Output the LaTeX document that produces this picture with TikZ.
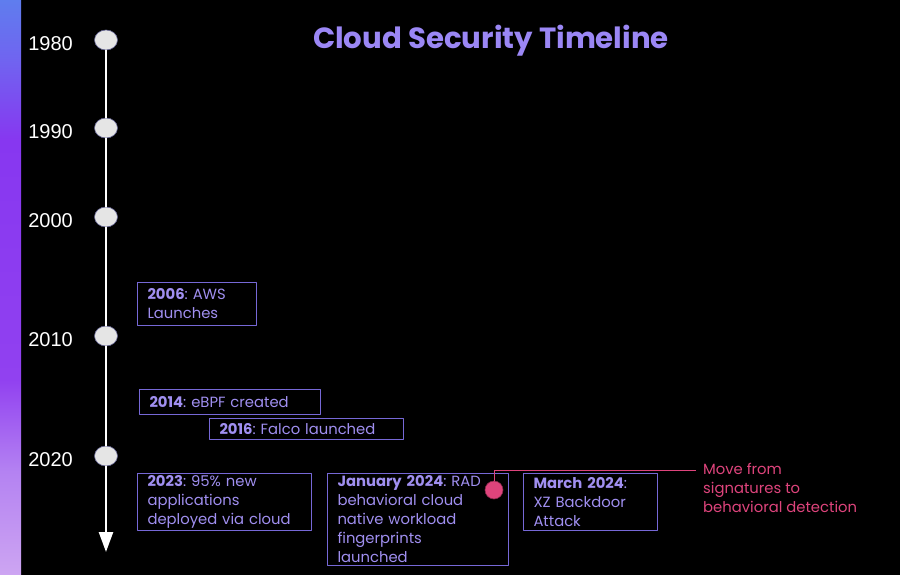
\documentclass[tikz,border=0pt]{standalone}
\usepackage{fontspec}
\setmainfont{Poppins}
\newfontfamily\yearfont{Liberation Sans}
\usetikzlibrary{arrows.meta,shapes.geometric}
\definecolor{titlecol}{RGB}{155,135,245}
\definecolor{evtext}{RGB}{160,143,240}
\definecolor{evline}{RGB}{118,104,214}
\definecolor{radpink}{RGB}{222,68,124}
\definecolor{stripA}{RGB}{95,125,238}
\definecolor{stripE}{RGB}{112,100,240}
\definecolor{stripB}{RGB}{135,55,240}
\definecolor{stripF}{RGB}{145,65,240}
\definecolor{stripD}{RGB}{180,130,242}
\definecolor{stripC}{RGB}{205,165,242}
\pgfdeclareverticalshading{stripshade}{100bp}{color(0bp)=(stripC); color(25bp)=(stripC); color(34bp)=(stripD); color(42bp)=(stripF); color(62.8bp)=(stripB); color(69.8bp)=(stripE); color(75bp)=(stripA); color(100bp)=(stripA)}
\frenchspacing
\begin{document}
\begin{tikzpicture}[x=1pt, y=-1pt, line join=round,
    yearlbl/.style={anchor=east, text=white, font=\yearfont\fontsize{20}{22}\selectfont, inner sep=0pt},
    tick/.style={ellipse, draw=black!70!blue!60, line width=.6pt, fill=black!10, minimum width=23pt, minimum height=20pt, inner sep=0pt},
    evbox/.style={draw=evline, line width=1pt, anchor=north west, align=left, text=evtext, inner xsep=10pt, inner ysep=2pt, font=\fontsize{14.8}{19}\selectfont},
    axis/.style={white, line width=2.5pt}]
  \useasboundingbox (0,0) rectangle (900,575);
  \fill[black] (0,0) rectangle (900,575);
  \shade[shading=stripshade] (0,0) rectangle (21,575);
  % title
  \node[text=titlecol, font=\bfseries\fontsize{29.2}{33}\selectfont] (title) at (491,41) {Cloud Security Timeline};
  % decades
  \foreach \yr/\yy in {1980/40, 1990/128, 2000/217, 2010/336, 2020/456}{
    \node[tick] (c\yr) at (106,\yy) {};
    \node[yearlbl] (y\yr) at (73,\yy+4) {\yr};
  }
  \coordinate (tip) at (106,552);
  \foreach \a/\b in {1980/1990, 1990/2000, 2000/2010, 2010/2020}
    \draw[axis] (c\a) -- (c\b);
  \draw[axis, -{Triangle[width=14pt,length=20pt]}] (c2020) -- (tip);
  % events
  \node[evbox, text width=99pt, minimum height=43pt] (e2006) at (137,282) {\textbf{2006}: AWS\\Launches};
  \node[evbox, text width=161pt, minimum height=25pt] (e2014) at (139,389) {\textbf{2014}: eBPF created};
  \node[evbox, text width=174pt, minimum height=21pt] (e2016) at (209,418) {\textbf{2016}: Falco launched};
  \node[evbox, text width=154pt, minimum height=57pt] (e2023) at (137,473) {\textbf{2023}: 95\% new\\applications\\deployed via cloud};
  \node[evbox, text width=161pt, minimum height=92pt] (e2024a) at (327,473) {\textbf{January 2024}: RAD\\behavioral cloud\\native workload\\fingerprints\\launched};
  \node[evbox, text width=114pt, minimum height=57pt] (e2024b) at (523,473) {\textbf{March 2024}:\\XZ Backdoor\\Attack};
  % callout
  \node[circle, fill=radpink, draw=radpink!60!black, line width=.6pt, minimum size=18pt, inner sep=0pt] (rad) at (494,490) {};
  \coordinate (note) at (696,470);
  \node[anchor=north west, align=left, text=radpink, inner sep=0pt, font=\fontsize{14.8}{19}\selectfont] (move) at (703,463) {Move from\\signatures to\\behavioral detection};
  \draw[radpink, line width=1pt] (rad) |- (note);
\end{tikzpicture}
\end{document}
